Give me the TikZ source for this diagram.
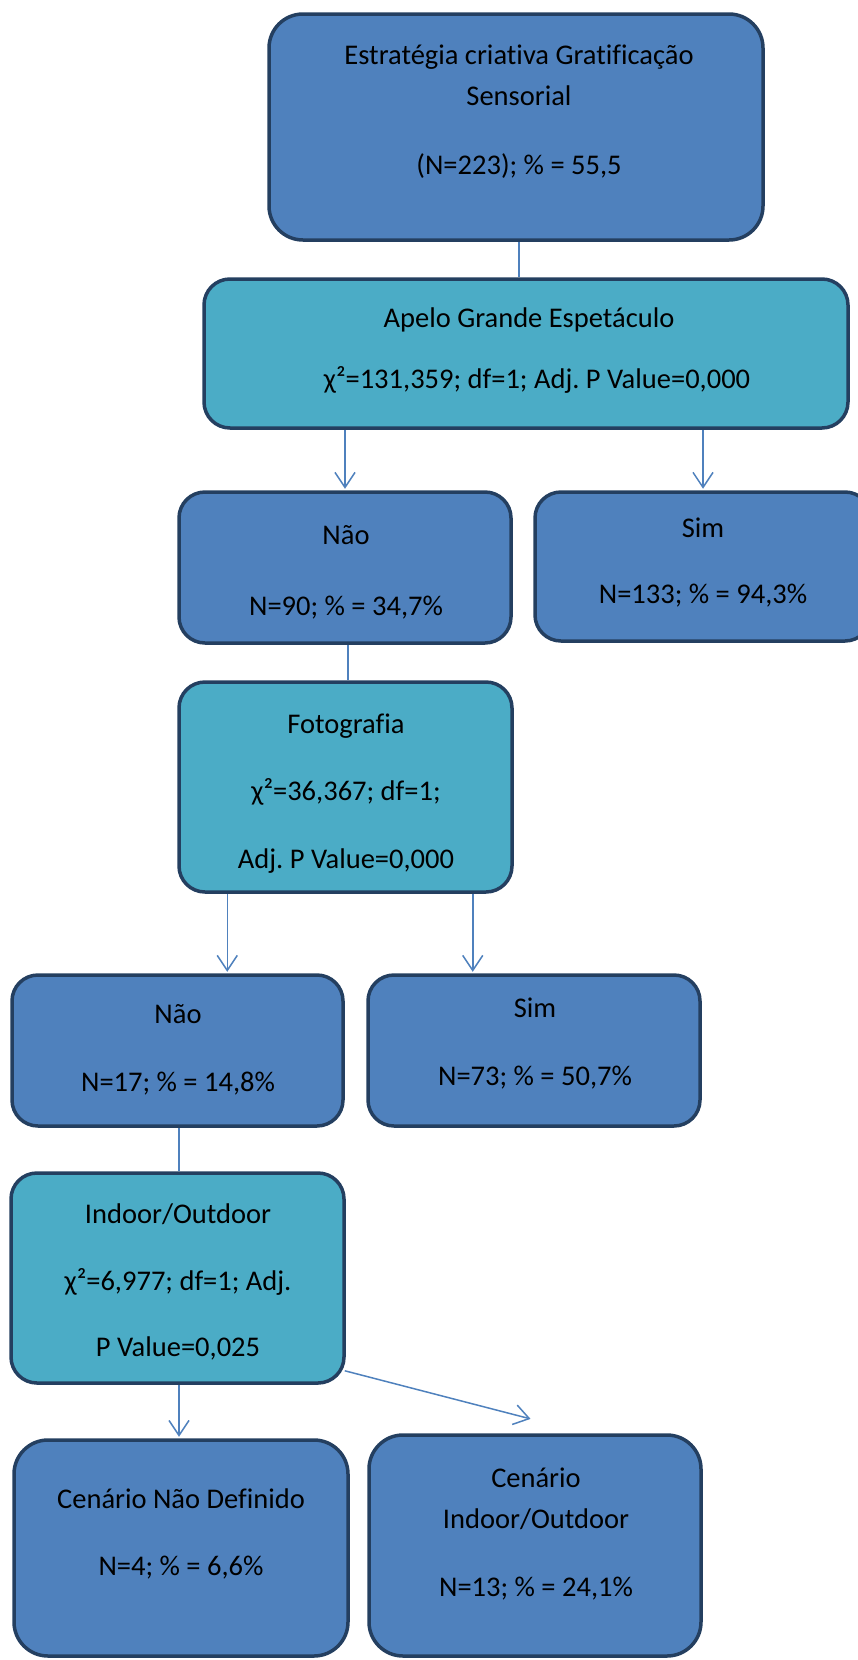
\documentclass[tikz,border=0pt]{standalone}
\usepackage{fontspec}
\setmainfont{Carlito}[Ligatures=NoCommon]
\usetikzlibrary{arrows.meta,backgrounds}
\definecolor{boxblue}{HTML}{4F81BD}
\definecolor{boxcyan}{HTML}{4BACC6}
\definecolor{edgenavy}{HTML}{243F60}
\definecolor{linkblue}{HTML}{4F81BD}
\frenchspacing
% keeps "ti" and "fi" as separate letters
\newcommand\nolig{\kern0pt}

\begin{document}
\begin{tikzpicture}[x=1pt,y=-1pt,
  card/.style={rectangle, draw=edgenavy, line width=3.5pt, rounded corners=26pt, inner sep=0pt},
  catbox/.style={card, fill=boxblue},
  testbox/.style={card, fill=boxcyan},
  lbl/.style={anchor=base, inner sep=0pt, font=\fontsize{28.5}{34}\selectfont, text=black},
  link/.style={draw=linkblue, line width=1.5pt},
  arr/.style={link, shorten >=1.5pt, -{Straight Barb[length=15pt,width=20pt,line width=1.5pt]}}
]
\useasboundingbox (0,0) rectangle (858,1660);
\clip (0,0) rectangle (858,1660);

% decision tree boxes
\node[catbox, minimum width=494pt, minimum height=226pt, rounded corners=34pt] (root) at (516,127) {};
\node[testbox, minimum width=644pt, minimum height=149pt] (apelo) at (526,353.5) {};
\node[catbox, minimum width=332pt, minimum height=151pt] (nao1) at (345,567.5) {};
\node[catbox, minimum width=336pt, minimum height=149pt] (sim1) at (703,566.5) {};
\node[testbox, minimum width=333pt, minimum height=210pt] (foto) at (345.5,787) {};
\node[catbox, minimum width=331pt, minimum height=151pt] (nao2) at (177.5,1050.5) {};
\node[catbox, minimum width=332pt, minimum height=151pt] (sim2) at (534,1050.5) {};
\node[testbox, minimum width=333pt, minimum height=210pt] (indoor) at (177.5,1278) {};
\node[catbox, minimum width=334pt, minimum height=216pt, rounded corners=34pt] (cnd) at (181,1548) {};
\node[catbox, minimum width=332pt, minimum height=221pt, rounded corners=34pt] (cio) at (535,1545.5) {};

% box texts
\node[lbl] (root-a) at (519,64) {Estratégia criat\nolig iva Grat\nolig if\nolig icação};
\node[lbl] (root-b) at (519,105) {Sensorial};
\node[lbl] (root-c) at (519,174) {(N=223); \% = 55,5};

\node[lbl] (apelo-a) at (529,327) {Apelo Grande Espetáculo};
\node[lbl] (apelo-b) at (537,388) {χ²=131,359; df=1; Adj. P Value=0,000};

\node[lbl] (nao1-a) at (346,544) {Não};
\node[lbl] (nao1-b) at (346,615) {N=90; \% = 34,7\%};

\node[lbl] (sim1-a) at (703,537) {Sim};
\node[lbl] (sim1-b) at (703,603) {N=133; \% = 94,3\%};

\node[lbl] (foto-a) at (346,733) {Fotograf\nolig ia};
\node[lbl] (foto-b) at (346,800) {χ²=36,367; df=1;};
\node[lbl] (foto-c) at (346,868) {Adj. P Value=0,000};

\node[lbl] (nao2-a) at (178,1023) {Não};
\node[lbl] (nao2-b) at (178,1091) {N=17; \% = 14,8\%};

\node[lbl] (sim2-a) at (535,1017) {Sim};
\node[lbl] (sim2-b) at (535,1085) {N=73; \% = 50,7\%};

\node[lbl] (indoor-a) at (178,1223) {Indoor/Outdoor};
\node[lbl] (indoor-b) at (178,1290) {χ²=6,977; df=1; Adj.};
\node[lbl] (indoor-c) at (178,1356) {P Value=0,025};

\node[lbl] (cnd-a) at (181,1508) {Cenário Não Def\nolig inido};
\node[lbl] (cnd-b) at (181,1575) {N=4; \% = 6,6\%};

\node[lbl] (cio-a) at (536,1487) {Cenário};
\node[lbl] (cio-b) at (536,1528) {Indoor/Outdoor};
\node[lbl] (cio-c) at (536,1596) {N=13; \% = 24,1\%};

% connectors
\begin{scope}[on background layer]
\draw[link] ([xshift=3pt]root.south) -- ([xshift=3pt]root.south |- apelo.north);
\draw[arr] (apelo.south -| nao1.north) -- (nao1.north);
\draw[arr] (apelo.south -| sim1.north) -- (sim1.north);
\draw[link] ([xshift=3pt]nao1.south) -- ([xshift=3pt]nao1.south |- foto.north);
\draw[arr] ([xshift=50pt]foto.south west) -- ([xshift=50pt]foto.south west |- nao2.north);
\draw[arr] ([xshift=-41pt]foto.south east) -- ([xshift=-41pt]foto.south east |- sim2.north);
\draw[link] ([xshift=1.5pt]nao2.south) -- ([xshift=1.5pt]nao2.south |- indoor.north);
\draw[arr] ([xshift=1.5pt]indoor.south) -- ([xshift=1.5pt]indoor.south |- cnd.north);
\draw[arr] ([shift={(-1pt,14pt)}]indoor.south east) -- ([shift={(-3pt,14pt)}]cio.north);
\end{scope}
\end{tikzpicture}
\end{document}
